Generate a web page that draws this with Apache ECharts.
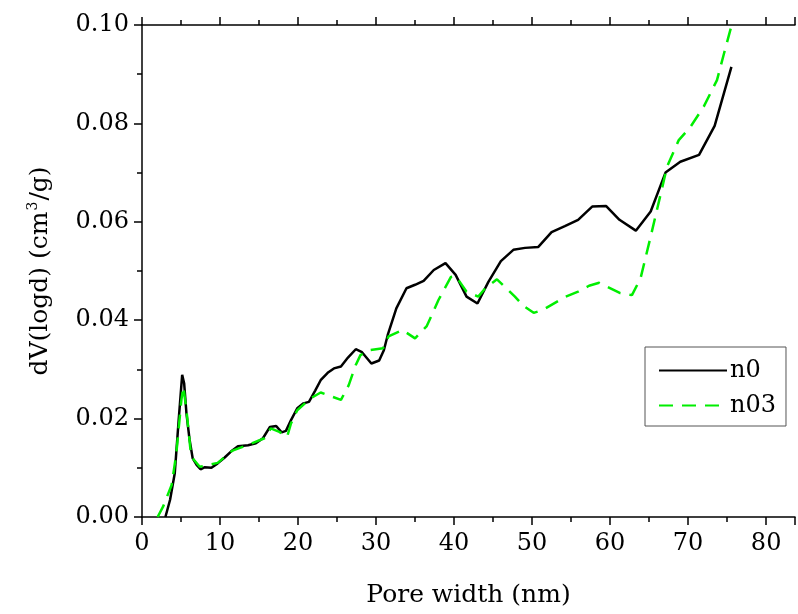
<!DOCTYPE html>
<html>
<head>
<meta charset="utf-8">
<script src="https://cdn.jsdelivr.net/npm/echarts@6/dist/echarts.min.js"></script>
<style>
html,body{margin:0;padding:0;background:#fff;}
#chart{width:798px;height:614px;}
</style>
</head>
<body>
<div id="chart"></div>
<script>
var seriesNames = ['n0', 'n03'];
var n0X = [3.0,3.6,4.2,4.7,5.15,5.4,5.7,6.1,6.5,7.0,7.5,8.0,8.9,9.7,10.6,11.4,12.3,13.6,14.6,15.5,16.4,17.2,17.9,18.45,19.1,19.9,20.7,21.4,22.2,22.9,23.8,24.6,25.5,26.4,27.4,28.2,29.4,30.4,31.0,31.5,32.6,33.9,35.0,36.1,37.4,38.9,40.2,41.6,43.0,44.4,46.0,47.6,49.1,50.8,52.5,54.2,55.9,57.7,59.5,61.2,63.3,65.2,67.1,69.0,71.4,73.4,75.55];
var n0Y = [0,0.0035,0.0089,0.0197,0.0289,0.0272,0.021,0.0157,0.0119,0.0106,0.0097,0.0101,0.0100,0.0109,0.0121,0.0133,0.0144,0.0146,0.0150,0.0160,0.0183,0.0185,0.0172,0.0175,0.0197,0.0221,0.0231,0.0234,0.0257,0.0278,0.0293,0.0302,0.0306,0.0324,0.0341,0.0335,0.0312,0.0318,0.0339,0.0370,0.0424,0.0465,0.0472,0.0480,0.0502,0.0516,0.0492,0.0448,0.0434,0.0478,0.0520,0.0543,0.0547,0.0549,0.0579,0.0591,0.0604,0.0631,0.0632,0.0604,0.0582,0.0621,0.0700,0.0722,0.0736,0.0795,0.0915];
var n03X = [2.0,2.7,3.8,4.4,5.05,5.3,5.7,6.3,7.4,9.7,11.6,13.8,15.7,16.5,17.6,18.6,19.1,19.9,21.6,22.9,25.5,26.5,27.4,28.0,29.1,30.9,31.6,33.4,35.0,36.5,38.0,39.6,40.2,41.6,43.1,44.0,45.5,46.5,47.8,48.9,50.2,51.4,54.2,55.9,57.3,58.6,61.3,62.8,63.9,65.2,66.3,67.3,68.8,70.3,72.0,73.7,74.6,75.5];
var n03Y = [0,0.0021,0.0065,0.0129,0.0238,0.0265,0.0217,0.0123,0.0102,0.0110,0.0135,0.0148,0.0160,0.0180,0.0173,0.0163,0.0190,0.0217,0.0241,0.0253,0.0238,0.0268,0.0309,0.0329,0.0339,0.0343,0.0367,0.0380,0.0363,0.0388,0.0441,0.0488,0.0490,0.0458,0.0448,0.0465,0.0483,0.0468,0.0448,0.0429,0.0415,0.0421,0.0447,0.0458,0.0470,0.0476,0.0455,0.0451,0.0485,0.0570,0.0644,0.0712,0.0766,0.0793,0.0834,0.0888,0.0942,0.0995];

function pairs(xs, ys){ return xs.map(function(x,i){ return [x, ys[i]]; }); }

var FONT = 'DejaVu Serif';
var chart = echarts.init(document.getElementById('chart'), null, {renderer:'canvas'});
var axisLineStyle = {color:'#000', width:1.5};
var tickStyle = {color:'#000', width:1.5};
chart.setOption({
  animation: false,
  backgroundColor: '#fff',
  grid: {left:142, top:25, right:0, bottom:97},
  legend: {
    orient: 'vertical',
    left: 645, top: 347,
    padding: [10, 10, 7, 13],
    itemGap: 8,
    itemWidth: 68, itemHeight: 14,
    borderColor: '#555', borderWidth: 1,
    backgroundColor: '#fff',
    itemStyle: {opacity: 0},
    textStyle: {fontFamily: FONT, fontSize: 24, color:'#000', lineHeight: 27, padding:[0,0,0,-2]},
    data: seriesNames
  },
  xAxis: [{
    type: 'value', min: 0, max: 83.7, interval: 10,
    position: 'bottom',
    name: 'Pore width (nm)', nameLocation: 'middle', nameGap: 66,
    nameTextStyle: {fontFamily: FONT, fontSize: 25, color:'#000'},
    axisLine: {lineStyle: axisLineStyle},
    axisTick: {inside:false, length: 8, lineStyle: tickStyle},
    minorTick: {show:true, splitNumber:2, length:5, lineStyle: tickStyle},
    axisLabel: {margin: 15, fontFamily: FONT, fontSize: 24, color:'#000',
      formatter: function(v){ return (Math.abs(v % 10) < 1e-6) ? String(v) : ''; }},
    splitLine: {show:false}
  },{
    type: 'value', min: 0, max: 83.7, interval: 10,
    position: 'top',
    axisLine: {lineStyle: axisLineStyle},
    axisTick: {inside:false, length: 8, lineStyle: tickStyle},
    minorTick: {show:true, splitNumber:2, length:5, lineStyle: tickStyle},
    axisLabel: {show:false},
    splitLine: {show:false}
  }],
  yAxis: [{
    type: 'value', min: 0, max: 0.1, interval: 0.02,
    name: 'dV(logd) (cm{sup|3}/g)', nameLocation: 'middle', nameGap: 88,
    nameTextStyle: {fontFamily: FONT, fontSize: 25, color:'#000',
      rich: {sup: {fontFamily: FONT, fontSize: 14, color:'#000', verticalAlign: 'bottom', padding:[0,1,14,1]}}},
    axisLine: {show:true, lineStyle: axisLineStyle},
    axisTick: {show:true, inside:false, length: 8, lineStyle: tickStyle},
    minorTick: {show:true, splitNumber:2, length:5, lineStyle: tickStyle},
    axisLabel: {margin: 13, fontFamily: FONT, fontSize: 24, color:'#000',
      formatter: function(v){ return v.toFixed(2); }},
    splitLine: {show:false}
  }],
  series: [{
    name: seriesNames[0], type: 'line', xAxisIndex: 0, yAxisIndex: 0,
    data: pairs(n0X, n0Y), symbol: 'none', showSymbol: false,
    lineStyle: {color:'#000', width: 2.5},
    itemStyle: {color:'#000'}
  },{
    name: seriesNames[1], type: 'line', xAxisIndex: 0, yAxisIndex: 0,
    data: pairs(n03X, n03Y), symbol: 'none', showSymbol: false,
    lineStyle: {color:'#00ee00', width: 2.5, type: [14, 9]},
    itemStyle: {color:'#00ee00'}
  }]
});
</script>
</body>
</html>
